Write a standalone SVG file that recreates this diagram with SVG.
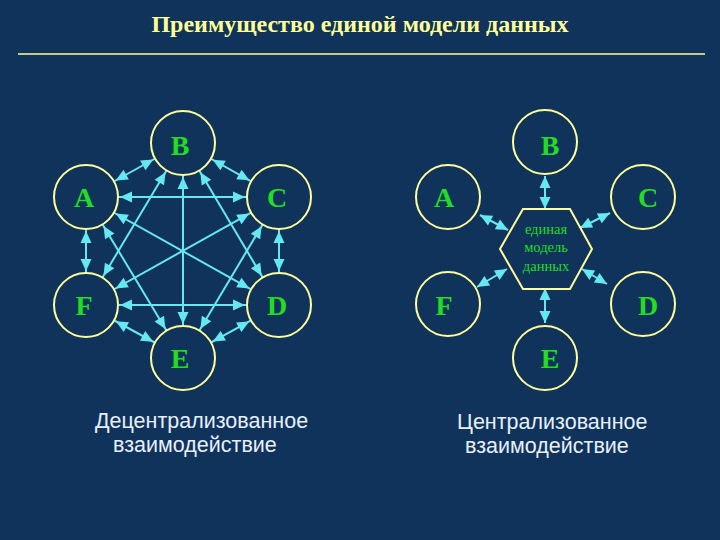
<svg xmlns="http://www.w3.org/2000/svg" width="720" height="540" viewBox="0 0 720 540">
<style>
.n circle{fill:#0f335a;stroke:#ffff99;stroke-width:2}
.lbl{font-family:"Liberation Serif",serif;font-weight:bold;font-size:28px;fill:#22dd22;text-anchor:middle}
.c line{stroke:#66e8f2;stroke-width:2}
.l line{marker-start:url(#ho);marker-end:url(#ho)}
.r line{marker-start:url(#h);marker-end:url(#h)}
.cap{font-family:"Liberation Sans",sans-serif;font-size:21.5px;fill:#e8f0ff}
</style>
<defs>
<marker id="ho" markerUnits="userSpaceOnUse" orient="auto-start-reverse" overflow="visible" markerWidth="1" markerHeight="1" refX="0" refY="0"><path d="M-34,0 L-46,-5.5 L-46,5.5 Z" fill="#66e8f2"/></marker>
<marker id="h" markerUnits="userSpaceOnUse" orient="auto-start-reverse" overflow="visible" markerWidth="1" markerHeight="1" refX="0" refY="0"><path d="M0,0 L-12,-5.5 L-12,5.5 Z" fill="#66e8f2"/></marker>
</defs>
<rect width="720" height="540" fill="#0f335a"/>
<text x="360" y="32" text-anchor="middle" font-family="Liberation Serif,serif" font-weight="bold" font-size="24" fill="#ffff99">Преимущество единой модели данных</text>
<line x1="18" y1="54" x2="705" y2="54" stroke="#ffff99" stroke-width="1.5"/>
<g id="connectors" class="c">
<g class="l">
<line x1="86" y1="197" x2="183" y2="143"/><line x1="86" y1="197" x2="279" y2="197"/><line x1="86" y1="197" x2="279" y2="305"/><line x1="86" y1="197" x2="183" y2="358"/><line x1="86" y1="197" x2="86" y2="305"/>
<line x1="183" y1="143" x2="279" y2="197"/><line x1="183" y1="143" x2="279" y2="305"/><line x1="183" y1="143" x2="183" y2="358"/><line x1="183" y1="143" x2="86" y2="305"/>
<line x1="279" y1="197" x2="279" y2="305"/><line x1="279" y1="197" x2="183" y2="358"/><line x1="279" y1="197" x2="86" y2="305"/>
<line x1="279" y1="305" x2="183" y2="358"/><line x1="279" y1="305" x2="86" y2="305"/>
<line x1="183" y1="358" x2="86" y2="305"/>
</g>
<g class="r">
<line x1="545" y1="176" x2="545" y2="209"/><line x1="480" y1="215" x2="508" y2="230"/><line x1="610" y1="213" x2="580" y2="228"/>
<line x1="477" y1="287" x2="507" y2="269"/><line x1="607" y1="284" x2="582" y2="269"/><line x1="545" y1="288" x2="545" y2="323"/>
</g>
</g>
<g id="L-A" class="n"><circle cx="86" cy="197" r="32"/><text class="lbl" x="84" y="207">A</text></g>
<g id="L-B" class="n"><circle cx="183" cy="143" r="32"/><text class="lbl" x="180" y="155">B</text></g>
<g id="L-C" class="n"><circle cx="279" cy="197" r="32"/><text class="lbl" x="277" y="207">C</text></g>
<g id="L-D" class="n"><circle cx="279" cy="305" r="32"/><text class="lbl" x="277" y="315">D</text></g>
<g id="L-E" class="n"><circle cx="183" cy="358" r="32"/><text class="lbl" x="180" y="368">E</text></g>
<g id="L-F" class="n"><circle cx="86" cy="305" r="32"/><text class="lbl" x="84" y="315">F</text></g>
<g id="R-A" class="n"><circle cx="448" cy="197" r="32"/><text class="lbl" x="444" y="207">A</text></g>
<g id="R-B" class="n"><circle cx="545" cy="142" r="32"/><text class="lbl" x="550" y="155">B</text></g>
<g id="R-C" class="n"><circle cx="643" cy="197" r="32"/><text class="lbl" x="648" y="207">C</text></g>
<g id="R-D" class="n"><circle cx="643" cy="304" r="32"/><text class="lbl" x="648" y="315">D</text></g>
<g id="R-E" class="n"><circle cx="545" cy="358" r="32"/><text class="lbl" x="550" y="368">E</text></g>
<g id="R-F" class="n"><circle cx="448" cy="304" r="32"/><text class="lbl" x="444" y="315">F</text></g>
<g id="hub"><polygon points="523,209 570,209 592,249 570,289 523,289 500,249" fill="#0f335a" stroke="#ffff99" stroke-width="2"/>
<g font-family="Liberation Serif,serif" font-size="14.5" fill="#22dd22" text-anchor="middle"><text x="546" y="234">единая</text><text x="546" y="252">модель</text><text x="546" y="271">данных</text></g></g>
<text class="cap" x="95" y="428">Децентрализованное</text><text class="cap" x="113" y="452">взаимодействие</text>
<text class="cap" x="457" y="429">Централизованное</text><text class="cap" x="465" y="453">взаимодействие</text>
</svg>
